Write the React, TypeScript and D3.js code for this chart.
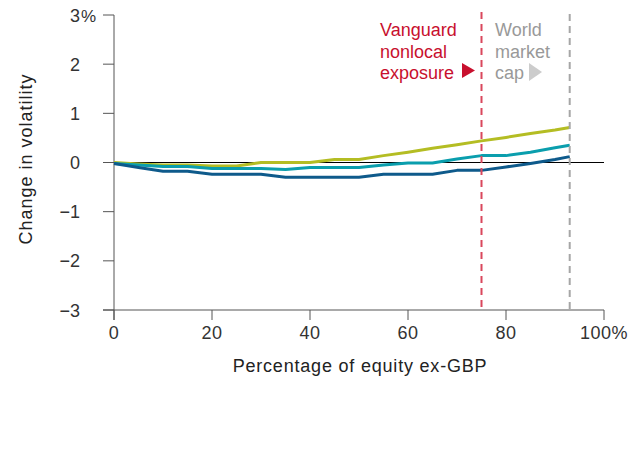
import React from "react";
import * as d3 from "d3";

const xValues = [0, 5, 10, 15, 20, 25, 30, 35, 40, 45, 50, 55, 60, 65, 70, 75, 80, 85, 90, 93];
const greenSeries = [0, -0.03, -0.05, -0.05, -0.07, -0.07, 0, 0, 0, 0.06, 0.06, 0.14, 0.21, 0.29, 0.36, 0.44, 0.51, 0.59, 0.66, 0.71];
const tealSeries = [-0.02, -0.05, -0.08, -0.08, -0.12, -0.12, -0.12, -0.14, -0.1, -0.1, -0.1, -0.05, -0.01, -0.01, 0.07, 0.14, 0.14, 0.21, 0.3, 0.35];
const blueSeries = [-0.02, -0.1, -0.18, -0.18, -0.24, -0.24, -0.24, -0.3, -0.3, -0.3, -0.3, -0.24, -0.24, -0.24, -0.16, -0.16, -0.09, -0.02, 0.06, 0.12];
const xTicks = [0, 20, 40, 60, 80, 100];
const yTicks = [-3, -2, -1, 0, 1, 2, 3];
const vanguardX = 75;
const worldX = 93;
const vanguardLabel = ["Vanguard", "nonlocal", "exposure"];
const worldLabel = ["World", "market", "cap"];

const W = 641, H = 467;
const FONT = "'Liberation Sans', Arial, sans-serif";

export default function App() {
  const x = d3.scaleLinear().domain([0, 100]).range([114, 604]);
  const y = d3.scaleLinear().domain([-3, 3]).range([310, 15]);
  const line = d3.line<number>().x((_, i) => x(xValues[i])).y((d) => y(d));
  const series = [
    { data: greenSeries, color: "#b4bd23" },
    { data: tealSeries, color: "#0a9ead" },
    { data: blueSeries, color: "#0e5a8b" },
  ];
  const axisColor = "#555";
  return (
    <svg width={W} height={H} style={{ position: "absolute", left: 0, top: 0 }} fontFamily={FONT}>
      <rect width={W} height={H} fill="#fff" />
      {/* y axis */}
      <line x1={x(0)} x2={x(0)} y1={y(3)} y2={320} stroke={axisColor} strokeWidth={1} />
      {yTicks.map((t) => (
        <g key={t}>
          <line x1={103} x2={x(0)} y1={y(t)} y2={y(t)} stroke={axisColor} strokeWidth={1} />
          <text x={80} y={y(t) + 6.5} textAnchor="end" fontSize={18} fill="#333">
            {t < 0 ? "\u2212" + Math.abs(t) : String(t)}
          </text>
          {t === 3 && (
            <text x={81} y={y(t) + 6.5} fontSize={17} fill="#333">%</text>
          )}
        </g>
      ))}
      {/* x axis */}
      <line x1={103} x2={x(100)} y1={y(-3)} y2={y(-3)} stroke={axisColor} strokeWidth={1} />
      {xTicks.map((t) => (
        <g key={t}>
          <line x1={x(t)} x2={x(t)} y1={y(-3)} y2={320} stroke={axisColor} strokeWidth={1} />
          <text x={x(t)} y={339} textAnchor="middle" fontSize={18} letterSpacing={0.5} fill="#333">
            {t === 100 ? "100%" : String(t)}
          </text>
        </g>
      ))}
      {/* zero line */}
      <line x1={x(0)} x2={x(100)} y1={y(0)} y2={y(0)} stroke="#000" strokeWidth={1} />
      {/* series */}
      {series.map((s, i) => (
        <path key={i} d={line(s.data) || ""} fill="none" stroke={s.color} strokeWidth={3} strokeLinejoin="round" />
      ))}
      {/* reference lines */}
      <line x1={x(vanguardX)} x2={x(vanguardX)} y1={12} y2={y(-3)} stroke="#d9475c" strokeWidth={2} strokeDasharray="7,5" />
      <line x1={x(worldX)} x2={x(worldX)} y1={14} y2={y(-3)} stroke="#a6a6a6" strokeWidth={2} strokeDasharray="7,5" />
      {/* annotations */}
      {vanguardLabel.map((s, i) => (
        <text key={s} x={380} y={36 + i * 21.5} fontSize={18} fill="#c8102e">{s}</text>
      ))}
      <path d="M462,63 L475,70.5 L462,78 Z" fill="#c8102e" />
      {worldLabel.map((s, i) => (
        <text key={s} x={495} y={36 + i * 21.5} fontSize={18} fill="#999">{s}</text>
      ))}
      <path d="M529,63 L542,72 L529,81 Z" fill="#ccc" />
      {/* axis titles */}
      <text x={360} y={372} textAnchor="middle" fontSize={18} letterSpacing={0.8} fill="#222">Percentage of equity ex-GBP</text>
      <text transform={`translate(32,${159}) rotate(-90)`} textAnchor="middle" fontSize={18} letterSpacing={1} fill="#222">Change in volatility</text>
    </svg>
  );
}
